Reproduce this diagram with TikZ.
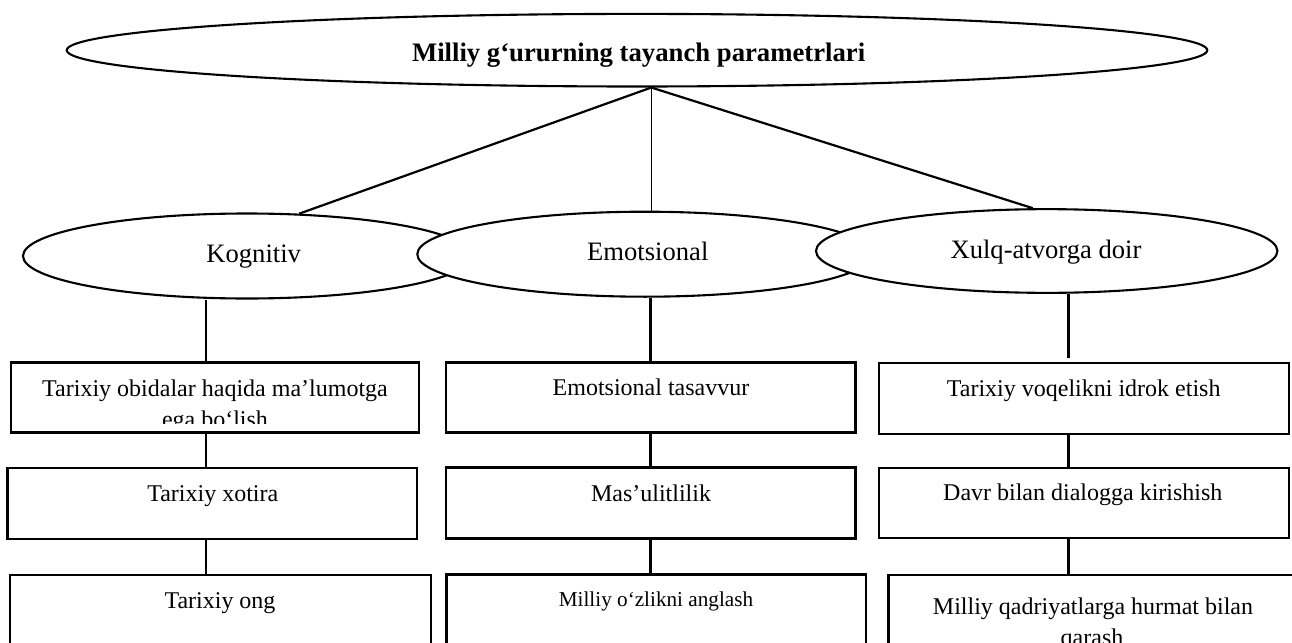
\documentclass[tikz,border=0pt]{standalone}
\usepackage{fontspec}
\setmainfont{Liberation Serif}
\usetikzlibrary{shapes.geometric}
\begin{document}
\begin{tikzpicture}[x=1pt,y=-1pt,
  ell/.style={ellipse, draw, line width=2.1pt, fill=white, inner sep=0pt},
  boxnode/.style={rectangle, draw, line width=2.6pt, inner sep=0pt},
  con/.style={line width=2.2pt},
  vcon/.style={line width=2.4pt},
  btxt/.style={anchor=base, inner sep=0pt, font=\fontsize{24}{29}\selectfont},
  etxt/.style={anchor=base, inner sep=0pt, font=\fontsize{26.6}{32}\selectfont},
]
\clip (0,0) rectangle (1292,642);
\fill[white] (0,0) rectangle (1292,642);

% top ellipse
\node[ell, minimum width=1140.6pt, minimum height=72.6pt] (top) at (637,50.2) {};
\node[anchor=base, inner sep=0pt, font=\bfseries\fontsize{26.7}{32}\selectfont] (ttl) at (638.6,62) {Milliy g‘ururning tayanch parametrlari};

% second-level ellipses
\node[ell, minimum width=448pt, minimum height=85pt] (kog) at (247,256) {};
\node[ell, minimum width=455.4pt, minimum height=85pt] (emo) at (645,254.2) {};
\node[ell, minimum width=461.4pt, minimum height=83.7pt] (xul) at (1046.7,251) {};
\node[etxt] (kogt) at (253.7,262.7) {Kognitiv};
\node[etxt] (emot) at (647.8,260) {Emotsional};
\node[etxt] (xult) at (1046,258.3) {Xulq-atvorga doir};

% connectors from top
\draw[con] (top.-69) -- (kog.39);
\draw[line width=1.6pt] (top.-69) -- (top.-69 |- emo.north);
\draw[con] (top.-69) -- (xul.108);

% boxes
\node[boxnode, minimum width=408pt, minimum height=70pt] (l1) at (215,397.5) {};
\node[boxnode, minimum width=409.5pt, minimum height=71pt] (l2) at (212.25,503.5) {};
\node[boxnode, minimum width=421pt, minimum height=125pt] (l3) at (220.5,637.5) {};
\node[boxnode, minimum width=409.7pt, minimum height=70.4pt] (m1) at (650.85,397.5) {};
\node[boxnode, minimum width=409.7pt, minimum height=71.4pt] (m2) at (650.85,503) {};
\node[boxnode, minimum width=419.3pt, minimum height=125.7pt] (m3) at (656.35,637.15) {};
\node[boxnode, minimum width=410pt, minimum height=71pt] (r1) at (1084,398.5) {};
\node[boxnode, minimum width=410pt, minimum height=70pt] (r2) at (1084,503) {};
\node[boxnode, minimum width=411.7pt, minimum height=125pt] (r3) at (1094.15,637.5) {};

% vertical connector columns
\coordinate (kx) at (205.7,0);
\coordinate (ex) at (650.5,0);
\coordinate (xx) at (1068.3,0);
\draw[vcon] (kx |- kog.south) -- (kx |- l1.north);
\draw[vcon] (kx |- l1.south) -- (kx |- l2.north);
\draw[vcon] (kx |- l2.south) -- (kx |- l3.north);
\draw[vcon] (ex |- emo.south) -- (ex |- m1.north);
\draw[vcon] (ex |- m1.south) -- (ex |- m2.north);
\draw[vcon] (ex |- m2.south) -- (ex |- m3.north);
\draw[vcon, shorten >=3.5pt] (xx |- xul.south) -- (xx |- r1.north);
\draw[vcon] (xx |- r1.south) -- (xx |- r2.north);
\draw[vcon] (xx |- r2.south) -- (xx |- r3.north);

% box texts
\node[btxt] (l1a) at (215,396) {Tarixiy obidalar haqida ma’lumotga};
\begin{scope}
\clip (12,400) rectangle (418,423);
\node[btxt] (l1b) at (215,427) {ega bo‘lish};
\end{scope}
\node[btxt] (l2t) at (212.8,501.7) {Tarixiy xotira};
\node[btxt] (l3t) at (220,608.5) {Tarixiy ong};
\node[btxt] (m1t) at (651,395.7) {Emotsional tasavvur};
\node[btxt] (m2t) at (651,501.7) {Mas’ulitlilik};
\node[anchor=base, inner sep=0pt, font=\fontsize{21.2}{26}\selectfont] (m3t) at (656,606.7) {Milliy o‘zlikni anglash};
\node[btxt] (r1t) at (1083.7,396.7) {Tarixiy voqelikni idrok etish};
\node[btxt] (r2t) at (1082.8,500) {Davr bilan dialogga kirishish};
\node[btxt] (r3a) at (1093,614) {Milliy qadriyatlarga hurmat bilan};
\node[btxt] (r3b) at (1092,645) {qarash};
\end{tikzpicture}
\end{document}
